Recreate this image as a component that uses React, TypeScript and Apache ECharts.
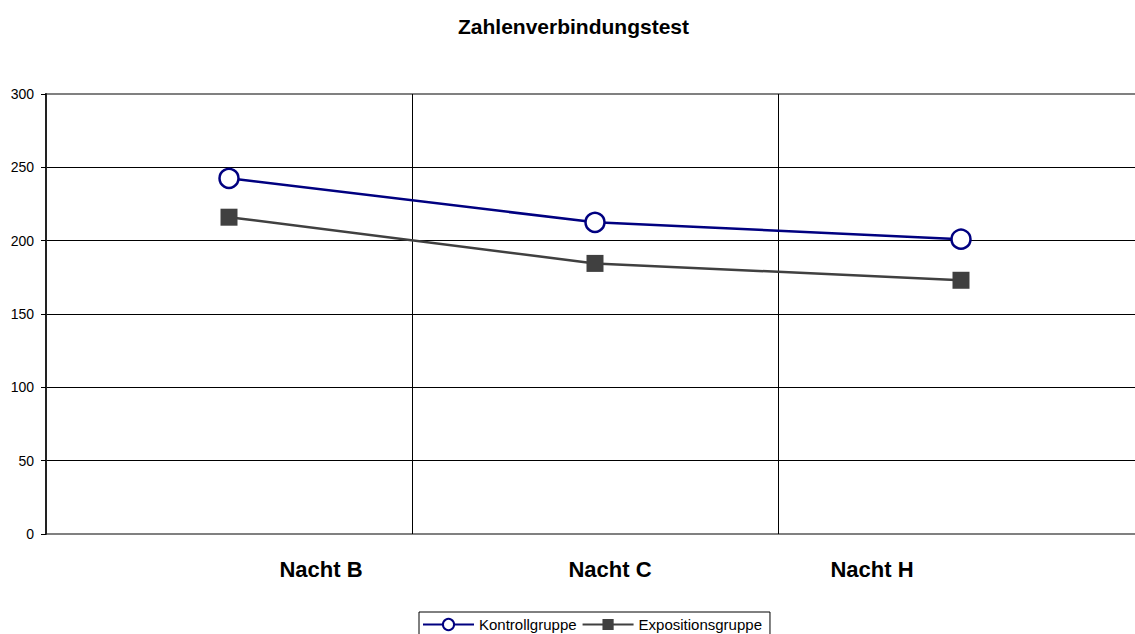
import React, { useEffect, useRef } from "react";
import * as echarts from "echarts";

const categories = ["Nacht B", "Nacht C", "Nacht H"];
const kontrollgruppe = [242.5, 212.5, 201];
const expositionsgruppe = [216, 184.5, 173];
const yTicks = { min: 0, max: 300, interval: 50 };

const FONT = "'Liberation Sans', Arial, sans-serif";

export default function App() {
  const ref = useRef<HTMLDivElement>(null);
  useEffect(() => {
    if (!ref.current) return;
    const chart = echarts.init(ref.current, undefined, { renderer: "svg" });
    chart.setOption({
      animation: false,
      backgroundColor: "#ffffff",
      textStyle: { fontFamily: FONT },
      title: {
        text: "Zahlenverbindungstest",
        left: 458,
        top: 16,
        padding: 0,
        textStyle: { fontFamily: FONT, fontSize: 21, fontWeight: "bold", color: "#000" },
      },
      legend: {
        left: 419,
        top: 612,
        padding: [5, 8, 5, 3],
        itemGap: 5,
        itemWidth: 51,
        itemHeight: 14,
        borderColor: "#000",
        borderWidth: 1,
        textStyle: { fontFamily: FONT, fontSize: 15, color: "#000" },
        data: ["Kontrollgruppe", "Expositionsgruppe"],
      },
      grid: {
        left: 46,
        right: 0,
        top: 94,
        bottom: 100,
        show: true,
        borderColor: "#808080",
        borderWidth: 2,
        backgroundColor: "transparent",
      },
      xAxis: {
        type: "category",
        data: categories,
        boundaryGap: true,
        axisLine: { show: false },
        axisTick: { show: false },
        splitLine: { show: true, lineStyle: { color: "#000", width: 1 } },
        axisLabel: {
          margin: 24,
          color: "#000",
          formatter: (v: string, i: number) => `{l${i}|${v}}`,
          rich: {
            l0: { fontFamily: FONT, fontSize: 22, fontWeight: "bold", color: "#000", padding: [0, 0, 0, 184] },
            l1: { fontFamily: FONT, fontSize: 22, fontWeight: "bold", color: "#000", padding: [0, 0, 0, 30] },
            l2: { fontFamily: FONT, fontSize: 22, fontWeight: "bold", color: "#000", padding: [0, 178, 0, 0] },
          },
        },
      },
      yAxis: {
        type: "value",
        min: yTicks.min,
        max: yTicks.max,
        interval: yTicks.interval,
        axisLine: { show: true, lineStyle: { color: "#222", width: 2 } },
        axisTick: { show: true, length: 5, lineStyle: { color: "#000", width: 1 } },
        axisLabel: { margin: 12, fontFamily: FONT, fontSize: 14, color: "#000" },
        splitLine: { show: true, showMinLine: false, showMaxLine: false, lineStyle: { color: "#000", width: 1 } },
      },
      series: [
        {
          name: "Kontrollgruppe",
          type: "line",
          data: kontrollgruppe,
          symbol: "circle",
          symbolSize: 19,
          lineStyle: { color: "#000080", width: 2.5 },
          itemStyle: { color: "#ffffff", borderColor: "#000080", borderWidth: 2.5 },
          z: 3,
        },
        {
          name: "Expositionsgruppe",
          type: "line",
          data: expositionsgruppe,
          symbol: "rect",
          symbolSize: 17,
          lineStyle: { color: "#404040", width: 2.5 },
          itemStyle: { color: "#404040", borderColor: "#404040", borderWidth: 0 },
          z: 2,
        },
      ],
    });
    return () => chart.dispose();
  }, []);
  return (
    <div style={{ position: "fixed", left: 0, top: 0, width: 1135, height: 634, overflow: "hidden", background: "#fff" }}>
      <div ref={ref} style={{ width: 1144, height: 634 }} />
    </div>
  );
}
